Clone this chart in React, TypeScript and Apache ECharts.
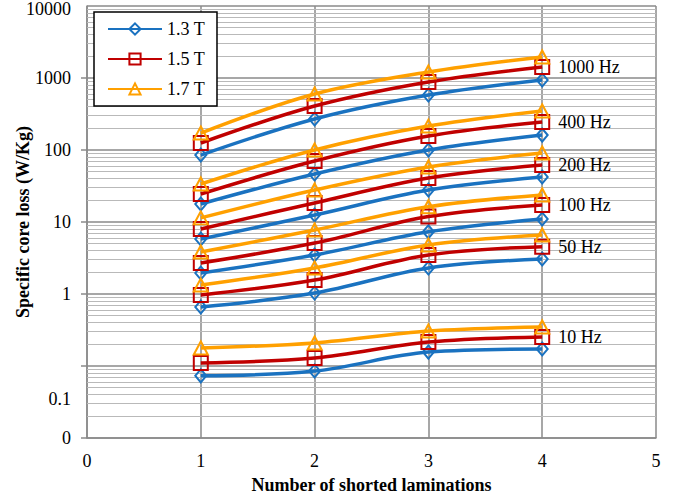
import React, { useEffect, useRef } from 'react';
import * as echarts from 'echarts';

// Number of shorted laminations (x values)
const laminations = [1, 2, 3, 4];
const inductions = ['1.3 T', '1.5 T', '1.7 T'];
const frequencyLabels = ['1000 Hz', '400 Hz', '200 Hz', '100 Hz', '50 Hz', '10 Hz'];

// Specific core loss (W/Kg)
const f1000_13 = [85, 270, 580, 938];
const f1000_15 = [125, 408, 880, 1420];
const f1000_17 = [172, 600, 1212, 1957];
const f400_13 = [17.8, 46.4, 100, 161];
const f400_15 = [24.5, 70.3, 156, 245];
const f400_17 = [33.7, 100, 215, 348];
const f200_13 = [5.8, 12.5, 27.8, 42.2];
const f200_15 = [8.0, 18.4, 40.8, 61.9];
const f200_17 = [11.4, 27.8, 58.1, 90.9];
const f100_13 = [1.96, 3.48, 7.3, 11.0];
const f100_15 = [2.7, 5.1, 11.9, 17.2];
const f100_17 = [3.83, 7.74, 16.3, 23.7];
const f50_13 = [0.66, 1.03, 2.3, 3.06];
const f50_15 = [0.97, 1.56, 3.48, 4.54];
const f50_17 = [1.33, 2.3, 4.8, 6.6];
const f10_13 = [0.073, 0.085, 0.156, 0.172];
const f10_15 = [0.11, 0.129, 0.215, 0.253];
const f10_17 = [0.178, 0.209, 0.306, 0.348];

// Y tick labels by decade exponent (-2 .. 4)
const yDecades = [-2, -1, 0, 1, 2, 3, 4];
const yTickLabels = ['0', '', '1', '10', '100', '1000', '10000'];
const minorMultipliers = [2, 3, 4, 5, 6, 7, 8, 9];

const FONT = '"Liberation Serif", "Times New Roman", serif';

export default function App() {
  const ref = useRef<HTMLDivElement>(null);

  useEffect(() => {
    const chart = echarts.init(ref.current!, null, { renderer: 'svg' });

    const groups = [
      [f1000_13, f1000_15, f1000_17],
      [f400_13, f400_15, f400_17],
      [f200_13, f200_15, f200_17],
      [f100_13, f100_15, f100_17],
      [f50_13, f50_15, f50_17],
      [f10_13, f10_15, f10_17],
    ];

    const looks = [
      { color: '#1a72c0', symbol: 'diamond', size: [11, 13] },
      { color: '#c00000', symbol: 'rect', size: [14, 14] },
      { color: '#ffa000', symbol: 'triangle', size: [14, 13] },
    ];

    const series: any[] = [];

    const minorValues: number[] = [];
    for (let e = -2; e < 4; e++) {
      for (const m of minorMultipliers) minorValues.push(m * Math.pow(10, e));
    }
    series.push({
      type: 'line',
      name: 'minor-grid',
      data: [],
      silent: true,
      markLine: {
        silent: true,
        symbol: 'none',
        z: 1,
        animation: false,
        label: { show: false },
        emphasis: { disabled: true },
        lineStyle: { color: '#b9b9b9', width: 1, type: 'solid' },
        data: minorValues.map((v) => ({ yAxis: v })),
      },
    });

    groups.forEach((g, gi) => {
      g.forEach((arr, i) => {
        const look = looks[i];
        series.push({
          type: 'line',
          name: inductions[i],
          data: laminations.map((x, k) => [x, arr[k]]),
          smooth: 0.35,
          symbol: look.symbol,
          symbolSize: look.size,
          showAllSymbol: true,
          lineStyle: { color: look.color, width: 3.5 },
          itemStyle: { color: 'rgba(255,255,255,0)', borderColor: look.color, borderWidth: 2 },
          emphasis: { disabled: true },
          z: 2 + i,
          label:
            i === 1
              ? {
                  show: true,
                  position: 'right',
                  distance: 8,
                  color: '#000',
                  fontFamily: FONT,
                  fontSize: 18,
                  formatter: (p: any) => (p.dataIndex === laminations.length - 1 ? frequencyLabels[gi] : ''),
                }
              : { show: false },
        });
      });
    });

    const option: any = {
      animation: false,
      backgroundColor: '#ffffff',
      grid: { left: 87, right: 25, top: 6, bottom: 61, containLabel: false, outerBoundsMode: 'none' },
      legend: {
        data: inductions,
        orient: 'vertical',
        left: 94,
        top: 12,
        itemWidth: 54,
        itemHeight: 14,
        itemGap: 12,
        padding: [8, 12, 8, 13],
        borderColor: '#000',
        borderWidth: 1.5,
        backgroundColor: '#fff',
        textStyle: { fontFamily: FONT, fontSize: 18, color: '#000' },
        selectedMode: false,
      },
      xAxis: {
        type: 'value',
        min: 0,
        max: 5,
        interval: 1,
        name: 'Number of shorted laminations',
        nameLocation: 'middle',
        nameGap: 38,
        nameMoveOverlap: false,
        nameTextStyle: { fontFamily: FONT, fontSize: 18, fontWeight: 'bold', color: '#000' },
        axisLine: { show: true, lineStyle: { color: '#8a8a8a', width: 1.5 } },
        axisTick: { show: false },
        axisLabel: { fontFamily: FONT, fontSize: 18, color: '#000', margin: 14 },
        splitLine: { show: true, lineStyle: { color: '#8a8a8a', width: 1.5 } },
      },
      yAxis: {
        type: 'log',
        logBase: 10,
        min: 0.01,
        max: 10000,
        name: 'Specific core loss (W/Kg)',
        nameLocation: 'middle',
        nameGap: 55,
        nameMoveOverlap: false,
        nameTextStyle: { fontFamily: FONT, fontSize: 18, fontWeight: 'bold', color: '#000' },
        axisLine: { show: true, lineStyle: { color: '#8a8a8a', width: 1.5 } },
        axisTick: { show: true, length: 6, lineStyle: { color: '#8a8a8a', width: 1.5 } },
        axisLabel: {
          fontFamily: FONT,
          fontSize: 18,
          color: '#000',
          margin: 16,
          showMaxLabel: false,
          formatter: (v: number) => {
            const e = Math.round(Math.log10(v));
            const idx = yDecades.indexOf(e);
            return idx >= 0 && e < 4 ? yTickLabels[idx] : '';
          },
        },
        splitLine: { show: true, lineStyle: { color: '#8a8a8a', width: 1.5 } },
      },
      graphic: [
        {
          type: 'text',
          x: 71,
          y: 9,
          style: {
            text: yTickLabels[yTickLabels.length - 1],
            align: 'right',
            verticalAlign: 'middle',
            fontFamily: FONT,
            fontSize: 18,
            fill: '#000',
          },
        },
        {
          type: 'text',
          x: 71,
          y: 399,
          style: {
            text: '0.1',
            align: 'right',
            verticalAlign: 'middle',
            fontFamily: FONT,
            fontSize: 18,
            fill: '#000',
          },
        },
      ],
      series,
    };

    chart.setOption(option);
    return () => chart.dispose();
  }, []);

  return <div ref={ref} style={{ position: 'absolute', left: 0, top: 0, width: 681, height: 499 }} />;
}
